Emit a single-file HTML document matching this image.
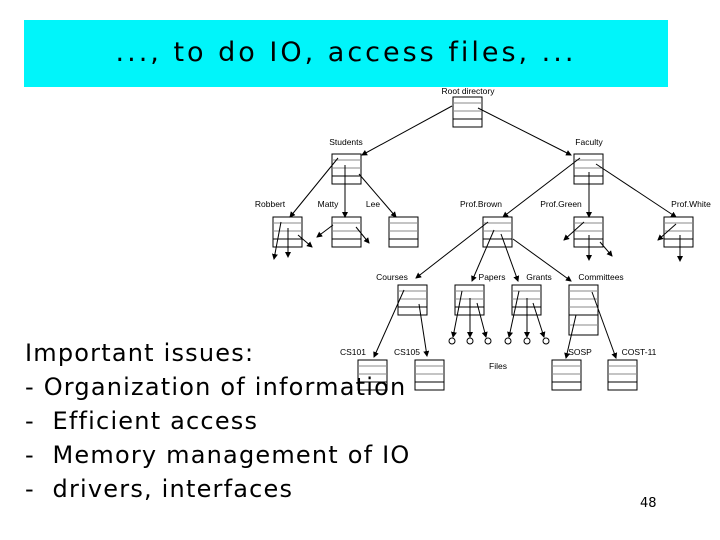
<!DOCTYPE html>
<html><head><meta charset="utf-8"><style>
body{margin:0;width:720px;height:540px;background:#fff;position:relative;overflow:hidden;font-family:"DejaVu Sans","Liberation Sans",sans-serif}
.t{position:absolute;left:24px;top:20px;width:644px;height:67px;background:#00f5fa}
.t div{position:absolute;left:0;right:0;top:17px;text-align:center;font-size:27px;letter-spacing:3px;color:#000}
.b{position:absolute;left:25px;top:336px;font-size:24px;line-height:34px;letter-spacing:1.2px;color:#000;white-space:pre}
.n{position:absolute;left:640px;top:496px;font-size:13px}
svg{position:absolute;left:0;top:0}
</style></head><body>
<div class="t"><div>..., to do IO, access files, ...</div></div>
<svg width="720" height="540" font-family="Liberation Sans, sans-serif" font-size="8.5">
<defs><marker id="a" markerWidth="6" markerHeight="6" refX="5" refY="3" orient="auto"><path d="M0,0L6,3L0,6z"/></marker>
<g id="bx"><rect x="0" y="0" width="29" height="30" fill="#fff" stroke="#000"/><line x1="0" y1="6" x2="29" y2="6" stroke="#888"/><line x1="0" y1="14" x2="29" y2="14" stroke="#888"/><line x1="0" y1="22" x2="29" y2="22" stroke="#000"/></g></defs>
<g>
<use href="#bx" x="453" y="97"/>
<use href="#bx" x="332" y="154"/><use href="#bx" x="574" y="154"/>
<use href="#bx" x="273" y="217"/><use href="#bx" x="332" y="217"/><use href="#bx" x="389" y="217"/>
<use href="#bx" x="483" y="217"/><use href="#bx" x="574" y="217"/><use href="#bx" x="664" y="217"/>
<use href="#bx" x="398" y="285"/><use href="#bx" x="455" y="285"/><use href="#bx" x="512" y="285"/>
<rect x="569" y="285" width="29" height="50" fill="#fff" stroke="#000"/>
<line x1="569" y1="291" x2="598" y2="291" stroke="#888"/><line x1="569" y1="299" x2="598" y2="299" stroke="#888"/><line x1="569" y1="307" x2="598" y2="307" stroke="#888"/><line x1="569" y1="315" x2="598" y2="315" stroke="#000"/><line x1="569" y1="325" x2="598" y2="325" stroke="#888"/>
<use href="#bx" x="358" y="360"/><use href="#bx" x="415" y="360"/><use href="#bx" x="552" y="360"/><use href="#bx" x="608" y="360"/>
</g>
<g stroke="#000" stroke-width="1" marker-end="url(#a)">
<line x1="452" y1="106" x2="362" y2="155"/><line x1="478" y1="108" x2="571" y2="155"/>
<line x1="338" y1="158" x2="290" y2="217"/><line x1="345" y1="165" x2="345" y2="217"/><line x1="359" y1="174" x2="396" y2="217"/>
<line x1="580" y1="158" x2="503" y2="217"/><line x1="589" y1="172" x2="589" y2="217"/><line x1="596" y1="164" x2="676" y2="217"/>
<line x1="281" y1="222" x2="274" y2="259"/><line x1="288" y1="228" x2="288" y2="257"/><line x1="298" y1="235" x2="312" y2="247"/>
<line x1="333" y1="225" x2="317" y2="237"/><line x1="356" y1="227" x2="369" y2="243"/>
<line x1="488" y1="222" x2="416" y2="278"/><line x1="494" y1="230" x2="472" y2="281"/><line x1="501" y1="234" x2="518" y2="281"/><line x1="513" y1="239" x2="571" y2="281"/>
<line x1="584" y1="222" x2="564" y2="240"/><line x1="589" y1="235" x2="589" y2="260"/><line x1="600" y1="242" x2="612" y2="256"/>
<line x1="676" y1="224" x2="658" y2="240"/><line x1="680" y1="235" x2="680" y2="261"/>
<line x1="404" y1="290" x2="374" y2="357"/><line x1="419" y1="304" x2="427" y2="356"/>
<line x1="462" y1="291" x2="453" y2="337"/><line x1="470" y1="298" x2="470" y2="337"/><line x1="477" y1="303" x2="486" y2="337"/>
<line x1="519" y1="291" x2="509" y2="337"/><line x1="527" y1="298" x2="527" y2="337"/><line x1="533" y1="303" x2="544" y2="337"/>
<line x1="576" y1="315" x2="566" y2="358"/><line x1="592" y1="292" x2="616" y2="358"/>
</g>
<g fill="#fff" stroke="#000"><circle cx="452" cy="341" r="3"/><circle cx="470" cy="341" r="3"/><circle cx="488" cy="341" r="3"/><circle cx="508" cy="341" r="3"/><circle cx="527" cy="341" r="3"/><circle cx="546" cy="341" r="3"/></g>
<g fill="#000" text-anchor="middle">
<text x="468" y="94">Root directory</text>
<text x="346" y="145">Students</text><text x="589" y="145">Faculty</text>
<text x="270" y="207">Robbert</text><text x="328" y="207">Matty</text><text x="373" y="207">Lee</text>
<text x="481" y="207">Prof.Brown</text><text x="561" y="207">Prof.Green</text><text x="691" y="207">Prof.White</text>
<text x="392" y="280">Courses</text><text x="492" y="280">Papers</text><text x="539" y="280">Grants</text><text x="601" y="280">Committees</text>
<text x="353" y="355">CS101</text><text x="407" y="355">CS105</text><text x="580" y="355">SOSP</text><text x="639" y="355">COST-11</text>
<text x="498" y="369">Files</text>
</g>
</svg>
<div class="b">Important issues:
- Organization of information
-  Efficient access
-  Memory management of IO
-  drivers, interfaces</div>
<div class="n">48</div>
</body></html>
